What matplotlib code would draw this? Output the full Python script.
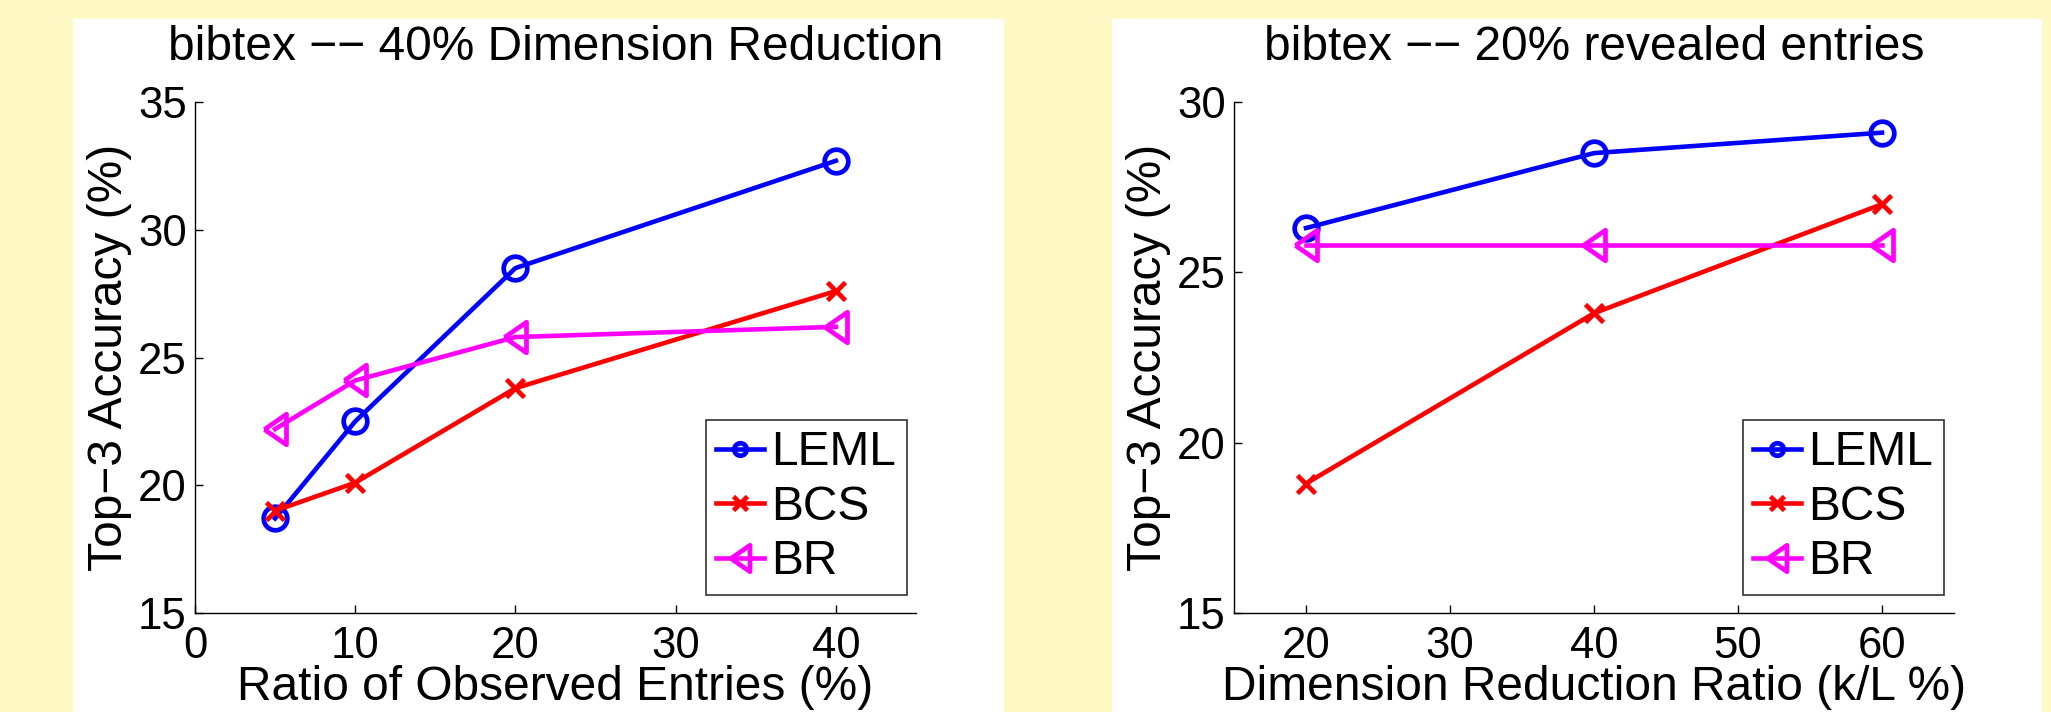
# bibtex top-3 accuracy: observed-entry ratio (left) and dimension reduction ratio (right)

import matplotlib
matplotlib.use("Agg")
import matplotlib.pyplot as plt
from matplotlib.patches import Rectangle

plt.rcParams['font.family'] = ['Liberation Sans', 'DejaVu Sans']

# left panel: 40% dimension reduction
obs_ratio = [5, 10, 20, 40]
leml_obs = [18.7, 22.5, 28.5, 32.7]
bcs_obs = [19.0, 20.1, 23.8, 27.6]
br_obs = [22.2, 24.1, 25.8, 26.2]

# right panel: 20% revealed entries
dim_ratio = [20, 40, 60]
leml_dim = [26.3, 28.5, 29.1]
bcs_dim = [18.8, 23.8, 27.0]
br_dim = [25.8, 25.8, 25.8]

method_names = ["LEML", "BCS", "BR"]

W, H = 2051, 712
fig = plt.figure(figsize=(W / 100, H / 100), dpi=100)
fig.patch.set_facecolor("#FFF9C5")

# white panel backgrounds
for x0, x1 in [(73, 1004), (1112, 2042)]:
    fig.add_artist(Rectangle((x0 / W, 0), (x1 - x0) / W, (H - 19) / H,
                             transform=fig.transFigure, facecolor="white",
                             edgecolor="none", zorder=-10))

FS = 34.5      # titles, axis labels, legend
TICK_FS = 31.5

# matlab-style left triangle (taller than wide)
tri_left = [(-0.72, 0), (0.72, -1), (0.72, 1), (-0.72, 0)]

styles = [
    dict(color="#0000FF", marker="o", markersize=17, markerfacecolor="none"),
    dict(color="#FF0000", marker="x", markersize=13),
    dict(color="#FF00FF", marker=tri_left, markersize=22, markerfacecolor="none"),
]
legend_ms = [9, 10, 19]


def draw(ax, x, series, title, xlabel, xlim, ylim, xticks, yticks, leg_right):
    for ys, name, st in zip(series, method_names, styles):
        ax.plot(x, ys, label=name, linewidth=3.3, markeredgewidth=3.4,
                clip_on=False, **st)
    ax.set_xlim(*xlim)
    ax.set_ylim(*ylim)
    ax.set_xticks(xticks)
    ax.set_yticks(yticks)
    ax.set_facecolor("none")
    for s in ["top", "right"]:
        ax.spines[s].set_visible(False)
    for s in ["left", "bottom"]:
        ax.spines[s].set_linewidth(1.0)
    ax.tick_params(direction="in", length=6, width=1.0, labelsize=TICK_FS)
    ax.tick_params(axis="x", pad=9)
    ax.tick_params(axis="y", pad=6)
    ax.set_title(title, fontsize=FS, pad=30)
    ax.set_xlabel(xlabel, fontsize=FS, labelpad=-1)
    ax.set_ylabel("Top\u22123 Accuracy (%)", fontsize=FS, labelpad=4)
    leg = ax.legend(loc="lower right", bbox_to_anchor=(leg_right / W, (H - 595) / H),
                    bbox_transform=fig.transFigure, borderaxespad=0,
                    fontsize=FS, handlelength=1.0, handletextpad=0.15,
                    labelspacing=0.2, borderpad=0.22,
                    fancybox=False, framealpha=1)
    for h, ms in zip(leg.legend_handles, legend_ms):
        h.set_markersize(ms)
    leg.get_frame().set_edgecolor("#333333")
    leg.get_frame().set_linewidth(1.2)


ax1 = fig.add_axes([195 / W, (H - 613) / H, (916 - 195) / W, (613 - 102) / H])
draw(ax1, obs_ratio, [leml_obs, bcs_obs, br_obs],
     "bibtex \u2212\u2212 40% Dimension Reduction",
     "Ratio of Observed Entries (%)", (0, 45), (15, 35),
     [0, 10, 20, 30, 40], [15, 20, 25, 30, 35], 907)

ax2 = fig.add_axes([1234 / W, (H - 613) / H, (1954 - 1234) / W, (613 - 102) / H])
draw(ax2, dim_ratio, [leml_dim, bcs_dim, br_dim],
     "bibtex \u2212\u2212 20% revealed entries",
     "Dimension Reduction Ratio (k/L %)", (15, 65), (15, 30),
     [20, 30, 40, 50, 60], [15, 20, 25, 30], 1944)

fig.savefig("out.png", dpi=100, facecolor=fig.get_facecolor())
